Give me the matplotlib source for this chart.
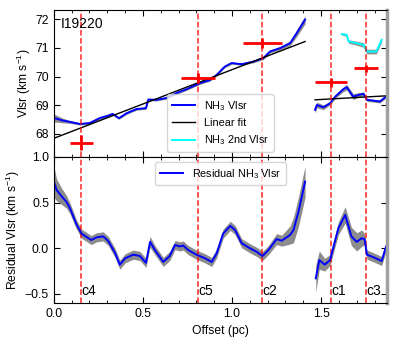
import numpy as np
import matplotlib
matplotlib.use('Agg')
import matplotlib.pyplot as plt
from matplotlib.ticker import MultipleLocator

plt.rcParams['font.family'] = ['Liberation Sans', 'DejaVu Sans']
plt.rcParams['font.size'] = 8.7
plt.rcParams['mathtext.fontset'] = 'custom'
plt.rcParams['mathtext.rm'] = 'Liberation Sans'

# NH3 Vlsr, first filament segment
x1 = [0.0, 0.05, 0.09, 0.146, 0.2, 0.26, 0.3, 0.33, 0.365, 0.41, 0.465, 0.517, 0.53,
      0.575, 0.63, 0.69, 0.745, 0.82, 0.876, 0.914, 0.96, 0.998, 1.054, 1.12, 1.175,
      1.213, 1.27, 1.326, 1.363, 1.41]
v1 = [68.56, 68.47, 68.42, 68.35, 68.38, 68.56, 68.63, 68.7, 68.55, 68.73, 68.87, 68.9, 69.2,
      69.19, 69.25, 69.43, 69.56, 69.77, 69.88, 70.06, 70.35, 70.47, 70.43, 70.52, 70.64,
      70.87, 70.99, 71.16, 71.51, 71.98]
e1 = [0.14, 0.08, 0.05, 0.04, 0.04, 0.04, 0.04, 0.04, 0.04, 0.04, 0.04, 0.04, 0.04,
      0.04, 0.04, 0.04, 0.04, 0.04, 0.04, 0.04, 0.04, 0.04, 0.04, 0.04, 0.05,
      0.05, 0.06, 0.08, 0.12, 0.14]

# NH3 Vlsr, second segment
x2 = [1.466, 1.476, 1.513, 1.55, 1.579, 1.625, 1.644, 1.68, 1.71, 1.738, 1.757, 1.83, 1.87]
v2 = [68.84, 69.01, 68.93, 69.07, 69.3, 69.56, 69.63, 69.3, 69.36, 69.4, 69.19, 69.13, 69.33]
e2 = [0.12, 0.1, 0.08, 0.06, 0.06, 0.08, 0.1, 0.1, 0.08, 0.06, 0.05, 0.05, 0.05]

# NH3 2nd Vlsr
x3 = [1.616, 1.644, 1.654, 1.70, 1.738, 1.757, 1.81, 1.84]
v3 = [71.48, 71.45, 71.22, 71.16, 71.1, 70.87, 70.87, 71.28]
e3 = [0.04, 0.05, 0.06, 0.07, 0.08, 0.08, 0.08, 0.08]

# linear fits (end points)
fit1_x = [0.0, 1.41]
fit1_y = [67.85, 71.22]
fit2_x = [1.466, 1.87]
fit2_y = [69.19, 69.33]

# cores
core_names = ['c4', 'c5', 'c2', 'c1', 'c3']
core_x = [0.153, 0.81, 1.171, 1.555, 1.751]
core_v = [67.70, 69.94, 71.16, 69.80, 70.29]
core_xerr = [0.064, 0.094, 0.108, 0.089, 0.066]
core_verr = [0.27, 0.17, 0.17, 0.15, 0.12]

# residuals
rx1 = [0.0, 0.015, 0.043, 0.07, 0.09, 0.127, 0.155, 0.21, 0.24, 0.277, 0.305, 0.343, 0.37,
       0.4, 0.446, 0.483, 0.517, 0.54, 0.567, 0.614, 0.65, 0.68, 0.708, 0.726, 0.754,
       0.80, 0.848, 0.886, 0.914, 0.95, 0.99, 1.017, 1.054, 1.10, 1.139, 1.171, 1.204,
       1.25, 1.279, 1.326, 1.345, 1.373, 1.41]
r1 = [0.73, 0.64, 0.57, 0.51, 0.44, 0.26, 0.16, 0.09, 0.12, 0.13, 0.08, -0.05, -0.18,
      -0.11, -0.07, -0.085, -0.16, 0.07, -0.02, -0.15, -0.085, 0.035, 0.02, 0.03, -0.02,
      -0.07, -0.11, -0.15, -0.055, 0.16, 0.245, 0.2, 0.055, 0.0, -0.04, -0.085, -0.02,
      0.1, 0.083, 0.146, 0.2, 0.4, 0.73]
re1 = [0.17, 0.12, 0.09, 0.07, 0.06, 0.05, 0.05, 0.05, 0.05, 0.05, 0.05, 0.05, 0.05,
       0.05, 0.05, 0.05, 0.05, 0.06, 0.05, 0.05, 0.05, 0.05, 0.05, 0.05, 0.05,
       0.05, 0.05, 0.05, 0.05, 0.05, 0.05, 0.05, 0.05, 0.05, 0.05, 0.05, 0.05,
       0.06, 0.06, 0.1, 0.14, 0.16, 0.17]
rx2 = [1.47, 1.49, 1.52, 1.55, 1.597, 1.635, 1.67, 1.70, 1.728, 1.744, 1.757, 1.795, 1.84, 1.865]
r2 = [-0.33, -0.13, -0.18, -0.13, 0.22, 0.365, 0.13, 0.07, 0.11, 0.1, -0.07, -0.1, -0.14, 0.02]
re2 = [0.15, 0.1, 0.07, 0.06, 0.07, 0.09, 0.1, 0.1, 0.09, 0.06, 0.05, 0.05, 0.05, 0.05]


fig = plt.figure(figsize=(3.99, 3.42), dpi=100)
ax1 = fig.add_axes([0.135, 0.541, 0.835, 0.43])
ax2 = fig.add_axes([0.135, 0.114, 0.835, 0.427], sharex=ax1)

for x, v, e in [(x1, v1, e1), (x2, v2, e2)]:
    x, v, e = np.array(x), np.array(v), np.array(e)
    ax1.fill_between(x, v - e, v + e, color='gray', alpha=0.9, lw=0)
x3a, v3a, e3a = np.array(x3), np.array(v3), np.array(e3)
ax1.fill_between(x3a, v3a - e3a, v3a + e3a, color='gray', alpha=0.9, lw=0)

ax1.plot(x1, v1, color='blue', lw=1.4, label='NH$_3$ Vlsr')
ax1.plot(x2, v2, color='blue', lw=1.4)
ax1.plot(fit1_x, fit1_y, color='black', lw=1.0, label='Linear fit')
ax1.plot(fit2_x, fit2_y, color='black', lw=1.0)
ax1.plot(x3, v3, color='cyan', lw=1.4, label='NH$_3$ 2nd Vlsr')
ax1.errorbar(core_x, core_v, xerr=core_xerr, yerr=core_verr, fmt='none',
             ecolor='red', elinewidth=2, capsize=0)

for ax in (ax1, ax2):
    for cx in core_x:
        ax.axvline(cx, color='red', ls='--', lw=1.1, alpha=0.85)

ax1.set_ylim(67.2, 72.32)
ax1.set_ylabel('Vlsr (km s$^{-1}$)')
ax1.yaxis.set_label_coords(-0.062, 0.5)
ax1.text(0.02, 0.95, 'I19220', transform=ax1.transAxes, fontsize=10, va='top')
ax1.legend(loc='lower center', fontsize=7.8, handlelength=2.2)
plt.setp(ax1.get_xticklabels(), visible=False)

for x, r, e in [(rx1, r1, re1), (rx2, r2, re2)]:
    x, r, e = np.array(x), np.array(r), np.array(e)
    ax2.fill_between(x, r - e, r + e, color='gray', alpha=0.9, lw=0)
ax2.plot(rx1, r1, color='blue', lw=1.4, label='Residual NH$_3$ Vlsr')
ax2.plot(rx2, r2, color='blue', lw=1.4)
for name, cx in zip(core_names, core_x):
    ax2.text(cx + 0.002, -0.47, name, fontsize=10, va='center', ha='left')

ax2.set_ylim(-0.6, 1.0)
ax2.set_xlim(0.0, 1.87)
ax2.set_xlabel('Offset (pc)')
ax2.set_ylabel('Residual Vlsr (km s$^{-1}$)')
ax2.yaxis.set_label_coords(-0.096, 0.5)
ax2.legend(loc='upper center', fontsize=7.8, handlelength=2.2)
ax2.yaxis.set_major_locator(MultipleLocator(0.5))
ax2.xaxis.set_major_locator(MultipleLocator(0.5))
ax2.xaxis.set_minor_locator(MultipleLocator(0.1))

for ax in (ax1, ax2):
    ax.tick_params(which='both', direction='in', top=True, right=True)
    ax.tick_params(which='major', length=4)
    ax.tick_params(which='minor', length=2.5)
    ax.spines['right'].set_color('#a0a0a0')
    ax.spines['right'].set_linewidth(2.5)

fig.savefig('out.png', dpi=100)
